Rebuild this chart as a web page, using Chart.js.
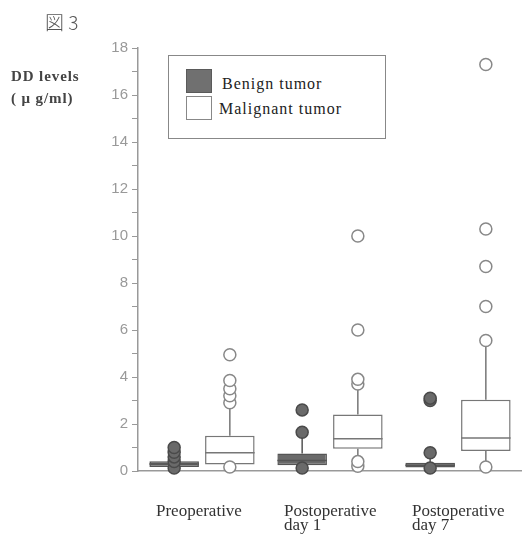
<!DOCTYPE html>
<html>
<head>
<meta charset="utf-8">
<script src="https://cdn.jsdelivr.net/npm/chart.js@4"></script>
<style>
  body { margin: 0; background: #fff; }
  #wrap { position: relative; width: 522px; height: 536px; }
  canvas { display: block; }
  .txt { position: absolute; color: #333; white-space: nowrap; }
  #fig { left: 45px; top: 8px; font: 300 19px "Noto Sans CJK JP"; color: #555; }
  #ylab { left: 11px; top: 65px; font: bold 15px/22px "Liberation Serif"; letter-spacing: 0.9px; color: #444; }
  #legend { position: absolute; left: 168px; top: 55px; width: 216px; height: 82px; border: 1px solid #888; background: #fff; }
  .sw { position: absolute; left: 17px; width: 24px; height: 22px; }
  .lt { position: absolute; font: 16px "Liberation Serif"; letter-spacing: 1px; color: #222; }
</style>
</head>
<body>
<div id="wrap">
  <canvas id="chart" width="522" height="536"></canvas>
  <div class="txt" id="fig">図 3</div>
  <div class="txt" id="ylab">DD levels<br>( μ g/ml)</div>
  <div id="legend">
    <div class="sw" style="top:13px;background:#707070;border:1px solid #5a5a5a"></div>
    <div class="lt" style="left:53px;top:19px">Benign tumor</div>
    <div class="sw" style="top:40px;background:#fff;border:1px solid #888"></div>
    <div class="lt" style="left:50px;top:44px">Malignant tumor</div>
  </div>
</div>
<script>
// datos
const categories = ['Preoperative', ['Postoperative', 'day 1'], ['Postoperative', 'day 7']];

const benignQ1 = [0.17, 0.25, 0.15];
const benignMed = [0.3, 0.45, 0.25];
const benignQ3 = [0.42, 0.75, 0.35];
const benignLow = [0.17, 0.25, 0.15];
const benignHigh = [0.42, 1.6, 0.7];
const benignOut = [[0.13, 0.4, 0.6, 0.8, 1.0], [0.13, 1.65, 2.6], [0.13, 0.78, 3.0, 3.1]];

const malignantQ1 = [0.28, 0.95, 0.85];
const malignantMed = [0.78, 1.37, 1.4];
const malignantQ3 = [1.5, 2.4, 3.03];
const malignantLow = [0.28, 0.45, 0.25];
const malignantHigh = [2.7, 3.6, 5.5];
const malignantOut = [[0.17, 2.9, 3.2, 3.5, 3.85, 4.95], [0.2, 0.4, 3.7, 3.9, 6.0, 10.0], [0.17, 5.55, 7.0, 8.7, 10.3, 17.3]];

const yTicks = [0, 2, 4, 6, 8, 10, 12, 14, 16, 18];

const series = [
  { label: 'Benign tumor', q1: benignQ1, med: benignMed, q3: benignQ3, low: benignLow, high: benignHigh, out: benignOut,
    fill: '#6a6a6a', line: '#555', dot: '#6a6a6a', dotLine: '#4a4a4a' },
  { label: 'Malignant tumor', q1: malignantQ1, med: malignantMed, q3: malignantQ3, low: malignantLow, high: malignantHigh, out: malignantOut,
    fill: '#ffffff', line: '#777', dot: '#ffffff', dotLine: '#888' }
];

// bigotes, medianas y atipicos
const boxExtras = {
  id: 'boxExtras',
  afterDatasetsDraw(chart) {
    const ctx = chart.ctx;
    const y = chart.scales.y;
    series.forEach((s, di) => {
      const meta = chart.getDatasetMeta(di);
      meta.data.forEach((bar, i) => {
        const half = bar.width / 2;
        ctx.save();
        ctx.strokeStyle = s.line;
        ctx.lineWidth = 1.5;
        ctx.beginPath();
        ctx.moveTo(bar.x, y.getPixelForValue(s.q3[i]));
        ctx.lineTo(bar.x, y.getPixelForValue(s.high[i]));
        ctx.moveTo(bar.x, y.getPixelForValue(s.q1[i]));
        ctx.lineTo(bar.x, y.getPixelForValue(s.low[i]));
        ctx.moveTo(bar.x - half, y.getPixelForValue(s.med[i]));
        ctx.lineTo(bar.x + half, y.getPixelForValue(s.med[i]));
        ctx.stroke();
        s.out[i].forEach(v => {
          ctx.beginPath();
          ctx.arc(bar.x, y.getPixelForValue(v), 6, 0, Math.PI * 2);
          ctx.fillStyle = s.dot;
          ctx.fill();
          ctx.strokeStyle = s.dotLine;
          ctx.stroke();
        });
        ctx.restore();
      });
    });
  }
};

new Chart(document.getElementById('chart'), {
  type: 'bar',
  data: {
    labels: categories,
    datasets: series.map(s => ({
      label: s.label,
      data: s.q1.map((v, i) => [v, s.q3[i]]),
      backgroundColor: s.fill,
      borderColor: s.line,
      borderWidth: 1.5,
      borderSkipped: false,
      categoryPercentage: 0.87,
      barPercentage: 0.89
    }))
  },
  options: {
    responsive: false,
    animation: false,
    devicePixelRatio: 1,
    layout: { padding: { left: 109, right: 0, top: 48, bottom: 0 } },
    plugins: { legend: { display: false }, tooltip: { enabled: false } },
    scales: {
      x: {
        grid: { display: false },
        border: { color: '#999', width: 1.5 },
        afterFit: axis => {
          axis.height = 65;
          axis.paddingLeft = 0;
          axis.paddingRight = 0;
        },
        ticks: {
          align: 'start',
          labelOffset: -46,
          padding: 25,
          maxRotation: 0,
          autoSkip: false,
          color: '#333',
          font: { family: 'Liberation Serif', size: 17, lineHeight: 0.85 }
        }
      },
      y: {
        min: 0,
        max: 18,
        afterBuildTicks: axis => {
          axis.ticks = [];
          for (let v = 0; v <= 18; v++) axis.ticks.push({ value: v });
        },
        afterFit: axis => {
          axis.width = 29;
          axis.paddingTop = 0;
          axis.paddingBottom = 0;
        },
        grid: { drawOnChartArea: false, tickLength: 6, color: '#999' },
        border: { color: '#999', width: 1.5 },
        ticks: {
          padding: 4,
          color: '#999',
          font: { family: 'Liberation Sans', size: 15 },
          callback: v => yTicks.includes(v) ? String(v) : ''
        }
      }
    }
  },
  plugins: [boxExtras]
});
</script>
</body>
</html>
